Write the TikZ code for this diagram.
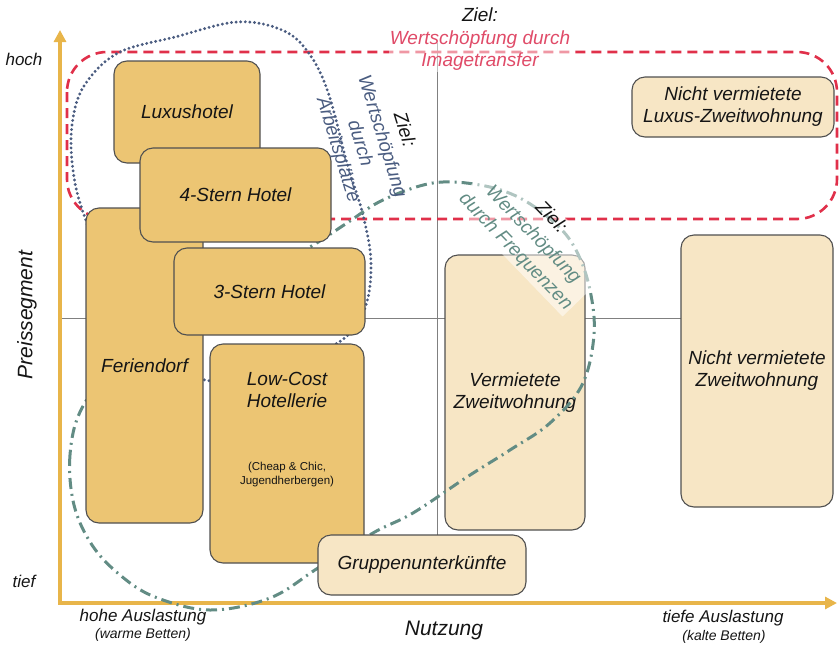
\documentclass[tikz,border=0pt]{standalone}
\usepackage{fontspec}
\setmainfont{Liberation Sans}
\usetikzlibrary{arrows.meta}
\definecolor{axisc}{HTML}{E8B54A}
\definecolor{darkfill}{HTML}{ECC573}
\definecolor{lightfill}{HTML}{F7E6C5}
\definecolor{boxline}{HTML}{505050}
\definecolor{gridc}{HTML}{808080}
\definecolor{redc}{HTML}{E0304A}
\definecolor{redtxt}{HTML}{E04B68}
\definecolor{bluec}{HTML}{4A5C80}
\definecolor{greenc}{HTML}{628C84}
\definecolor{txtc}{HTML}{151515}
\tikzset{
  axisline/.style={draw=axisc, line width=4, -{Triangle[length=12,width=12]}},
  gridl/.style={draw=gridc, line width=0.9},
  bigtxt/.style={font=\fontsize{19}{22}\selectfont\itshape, text=txtc, align=center, inner sep=0},
  midtxt/.style={font=\fontsize{17}{20}\selectfont\itshape, text=txtc, align=center, inner sep=0},
  axtxt/.style={font=\fontsize{21}{24}\selectfont\itshape, text=txtc, align=center, inner sep=0},
  smtxt/.style={font=\fontsize{14}{16}\selectfont\itshape, text=txtc, align=center, inner sep=0},
  tinytxt/.style={font=\fontsize{11.5}{14}\selectfont, text=txtc, align=center, inner sep=0},
  darkbox/.style={draw=boxline, fill=darkfill, rounded corners=13, line width=1.1, bigtxt, outer sep=0},
  lightbox/.style={draw=boxline, fill=lightfill, rounded corners=13, line width=1.1, bigtxt, outer sep=0},
  reddash/.style={draw=redc, line width=2.6, dash pattern=on 10 off 6},
  bluedot/.style={draw=bluec, line width=3.2, line cap=round, dash pattern=on 0 off 4.6},
  greendd/.style={draw=greenc, line width=3, dash pattern=on 11 off 5 on 2 off 5},
}
\begin{document}
\begin{tikzpicture}[x=1pt,y=-1pt]
\useasboundingbox (0,0) rectangle (839,649);
% grid lines
\coordinate (gtop) at (437,43);
\coordinate (gbot) at (437,535);
\coordinate (gleft) at (60,318);
\coordinate (gright) at (681,318);
\draw[gridl] (gtop) -- (gbot);
\draw[gridl] (gleft) -- (gright);
% axes
\coordinate (O) at (60,603);
\coordinate (ytip) at (60,30);
\coordinate (xtip) at (837,603);
\draw[axisline] (O) -- (ytip);
\draw[axisline] (58,603) -- (xtip);
% red dashed region
\draw[reddash, rounded corners=40] (67,52) rectangle (837,219);
% blue dotted region
\draw[bluedot] plot[smooth cycle, tension=0.6] coordinates {
 (72,125) (84,86) (118,53) (175,37) (237,22) (282,30) (308,52) (328,92)
 (347,163) (363,215) (371,263) (365,308) (342,340) (290,362) (240,374) (205,380)
 (160,355) (115,290) (84,215) (73,170)};
% light box under green curve
\node[lightbox, minimum width=140, minimum height=275] (verm) at (515,392.5) {Vermietete\\Zweitwohnung};
% green dash-dot region
\draw[greendd] plot[smooth cycle, tension=0.6] coordinates {
 (82,408) (70,455) (74,505) (92,545) (120,575) (155,597) (210,610) (270,598)
 (318,568) (373,533) (413,513) (467,477) (510,450) (550,423) (582,385) (594,335)
 (590,290) (577,252) (557,225) (520,198) (480,185) (433,183) (383,200) (347,223)
 (310,247) (250,280) (180,320) (120,360)};
% boxes
\node[darkbox, minimum width=146, minimum height=102] (lux) at (187,112) {Luxushotel};
\node[darkbox, minimum width=117, minimum height=315] (feri) at (144.5,365.5) {Feriendorf};
\node[darkbox, minimum width=191, minimum height=94] (four) at (235.5,195) {4-Stern Hotel};
\node[darkbox, minimum width=191, minimum height=87] (three) at (269.5,291.5) {3-Stern Hotel};
\node[darkbox, minimum width=154, minimum height=219] (low) at (287,453.5) {};
\node[bigtxt] (lowt) at (287,390) {Low-Cost\\Hotellerie};
\node[tinytxt] (lows) at (287,475) {(Cheap \& Chic,\\Jugendherbergen)};
\node[lightbox, minimum width=208, minimum height=60] (grp) at (422,565) {Gruppenunterkünfte};
\node[lightbox, minimum width=152, minimum height=272] (nverm) at (757,371) {Nicht vermietete\\Zweitwohnung};
\node[lightbox, minimum width=202, minimum height=60] (nlux) at (733,107) {Nicht vermietete\\Luxus-Zweitwohnung};
% goal labels
\node[bigtxt] (zielA) at (480,15) {Ziel:};
\node[bigtxt, text=redtxt, fill=white, fill opacity=0.5, text opacity=1, inner sep=1] (imgt) at (480,51) {Wertschöpfung durch\\Imagetransfer};
\node[bigtxt, text=bluec, rotate=-73, font=\fontsize{19}{23}\selectfont\itshape] (arb) at (370.5,140) {\textcolor{txtc}{Ziel:}\\Wertschöpfung\\durch\\Arbeitsplätze};
\node[bigtxt, text=greenc, rotate=-46, font=\fontsize{19}{24.5}\selectfont\itshape, fill=white, fill opacity=0.5, text opacity=1, inner sep=2] (freq) at (533,235) {\textcolor{txtc}{Ziel:}\\Wertschöpfung\\durch Frequenzen};
% axis labels
\node[midtxt] (hoch) at (24,59) {hoch};
\node[midtxt] (tief) at (24,581) {tief};
\node[axtxt, rotate=90] (preis) at (27,315) {Preissegment};
\node[axtxt] (nutz) at (444,630) {Nutzung};
\node[midtxt] (hohe) at (143,617) {hohe Auslastung};
\node[smtxt] (warm) at (143,635) {(warme Betten)};
\node[midtxt] (tiefe) at (723,618) {tiefe Auslastung};
\node[smtxt] (kalt) at (724,637) {(kalte Betten)};
\end{tikzpicture}
\end{document}
